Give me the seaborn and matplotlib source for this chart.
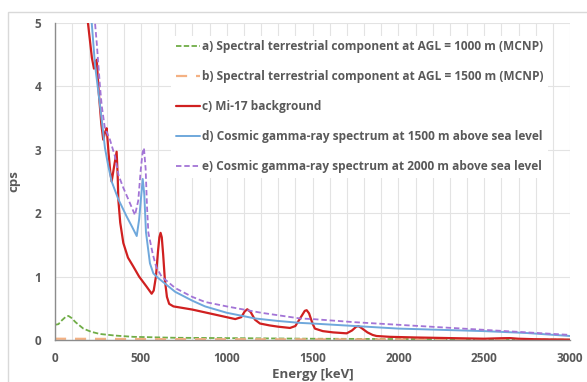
import matplotlib
matplotlib.use("Agg")
import matplotlib.pyplot as plt
from matplotlib.patches import Rectangle
import seaborn as sns
import numpy as np

# ---- data ----
green_e = [0, 20, 40, 60, 78, 95, 120, 165, 210, 262, 350, 456, 700, 1000, 1500, 2000, 2500, 3000]
green_y = [0.24, 0.25, 0.31, 0.36, 0.38, 0.35, 0.28, 0.18, 0.13, 0.095, 0.07, 0.05, 0.035, 0.03, 0.02, 0.015, 0.01, 0.005]

orange_e = [0, 200, 500, 1000, 1500, 2000, 2500, 3000]
orange_y = [0.02, 0.018, 0.015, 0.012, 0.01, 0.008, 0.006, 0.005]

red_e = [150, 192, 215, 227, 236, 243, 255, 270, 281, 292, 301, 312, 322, 330, 345, 359, 365, 369, 380,
         398, 425, 456, 490, 534, 563, 575, 588, 600, 608, 615, 622, 630, 640, 652, 665, 690, 800, 900, 1000, 1050,
         1085, 1105, 1120, 1140, 1165, 1194, 1250, 1300, 1369, 1400, 1430, 1455, 1466, 1480, 1500, 1514,
         1560, 1620, 1699, 1730, 1755, 1767, 1785, 1820, 1850, 1873, 1950, 2100, 2300, 2500, 2600, 2650,
         2700, 2800, 3000]
red_y = [6.5, 5.0, 4.45, 4.28, 4.35, 4.42, 3.9, 3.4, 3.16, 3.28, 3.34, 2.95, 2.65, 2.50, 2.75, 2.97, 2.6, 2.21, 1.85,
         1.53, 1.3, 1.16, 1.0, 0.84, 0.73, 0.78, 1.0, 1.4, 1.62, 1.69, 1.62, 1.35, 0.95, 0.68, 0.57, 0.53, 0.48, 0.42, 0.36, 0.33,
         0.36, 0.45, 0.485, 0.44, 0.32, 0.26, 0.23, 0.21, 0.19, 0.22, 0.35, 0.46, 0.47, 0.42, 0.26, 0.18,
         0.14, 0.12, 0.105, 0.15, 0.21, 0.22, 0.19, 0.12, 0.08, 0.063, 0.05, 0.04, 0.03, 0.02, 0.028, 0.03,
         0.02, 0.012, 0.005]

blue_e = [170, 214, 233, 262, 291, 310, 330, 369, 417, 450, 476, 490, 503, 511, 520, 530, 553, 573,
          600, 650, 700, 800, 874, 1000, 1165, 1300, 1427, 1500, 1750, 2000, 2250, 2500, 2750, 3000]
blue_y = [6.2, 5.0, 4.34, 3.71, 3.03, 2.75, 2.5, 2.22, 1.95, 1.78, 1.64, 1.9, 2.3, 2.54, 2.3, 1.7, 1.21, 1.05,
          0.98, 0.87, 0.76, 0.62, 0.53, 0.43, 0.34, 0.30, 0.27, 0.26, 0.22, 0.18, 0.16, 0.14, 0.11, 0.063]

purple_e = [190, 230, 243, 262, 272, 290, 320, 349, 370, 398, 430, 466, 485, 500, 510, 518, 528, 536, 544,
            570, 590, 621, 700, 800, 874, 1000, 1200, 1427, 1500, 1750, 2000, 2250, 2500, 2750, 3000]
purple_y = [6.3, 5.1, 4.69, 4.0, 3.7, 3.35, 3.16, 2.9, 2.6, 2.40, 2.2, 1.97, 2.2, 2.7, 2.95, 3.03, 2.7, 2.1, 1.69,
            1.35, 1.15, 1.0, 0.82, 0.68, 0.6, 0.53, 0.43, 0.34, 0.33, 0.28, 0.24, 0.20, 0.16, 0.12, 0.08]

labels = [
    "a) Spectral terrestrial component at AGL = 1000 m (MCNP)",
    "b) Spectral terrestrial component at AGL = 1500 m (MCNP)",
    "c) Mi-17 background",
    "d) Cosmic gamma-ray spectrum at 1500 m above sea level",
    "e) Cosmic gamma-ray spectrum at 2000 m above sea level",
]
x_ticks = [0, 500, 1000, 1500, 2000, 2500, 3000]
y_ticks = [0, 1, 2, 3, 4, 5]

# ---- style ----
sns.set_style("white")
plt.rcParams["font.family"] = ["Open Sans", "DejaVu Sans"]
plt.rcParams["font.weight"] = "bold"
TXT = "#595959"

fig = plt.figure(figsize=(5.87, 3.82), dpi=100)
ax = fig.add_axes([55 / 587, 1 - 340 / 382, 515 / 587, 317 / 382])

# outer chart border
fig.patches.append(Rectangle((8 / 587, -0.1), 1.2, 1 - 12 / 382 + 0.1, transform=fig.transFigure,
                             fill=False, edgecolor="#d9d9d9", linewidth=1.0, zorder=0))

series = [
    (green_e, green_y, "#70AD47", 1.3, (3, 1.3)),
    (orange_e, orange_y, "#F4B183", 1.6, (5, 4)),
    (red_e, red_y, "#D02020", 1.6, None),
    (blue_e, blue_y, "#6FA8DC", 1.4, None),
    (purple_e, purple_y, "#A374D6", 1.3, (3, 1.6)),
]
handles = []
for (xe, ye, col, lw, dash), lab in zip(series, labels):
    sns.lineplot(x=xe, y=ye, ax=ax, color=col, linewidth=lw, label=lab, legend=False)
    ln = ax.lines[-1]
    if dash is not None:
        ln.set_dashes(dash)
    handles.append(ln)

ax.set_xlim(0, 3000)
ax.set_ylim(0, 5)
ax.set_xticks(x_ticks)
ax.set_yticks(y_ticks)
ax.set_xticks(np.arange(0, 3001, 100), minor=True)
ax.grid(True, which="both", axis="x", color="#e3e3e3", linewidth=0.8)
ax.grid(True, which="major", axis="y", color="#e3e3e3", linewidth=0.8)
ax.set_axisbelow(True)
for s in ["top", "right"]:
    ax.spines[s].set_visible(False)
for s in ["left", "bottom"]:
    ax.spines[s].set_color("#8c8c8c")
    ax.spines[s].set_linewidth(1.0)
ax.tick_params(axis="both", which="major", direction="out", length=4, width=1.0, color="#8c8c8c",
               labelcolor=TXT, labelsize=8.5)
ax.tick_params(axis="x", which="minor", length=0)
for t in ax.get_xticklabels() + ax.get_yticklabels():
    t.set_fontweight("bold")
ax.tick_params(axis="x", pad=5)
ax.tick_params(axis="y", pad=6)

ax.set_xlabel("Energy [keV]", fontsize=9.5, fontweight="bold", color=TXT, labelpad=2)
ax.set_ylabel("cps", fontsize=9.5, fontweight="bold", color=TXT, labelpad=10)

leg = ax.legend(handles=handles, labels=labels, loc="upper left", bbox_to_anchor=(0.225, 0.96),
                frameon=True, facecolor="white", edgecolor="none", framealpha=1.0,
                fontsize=8.6, handlelength=2.0, handletextpad=0.2, labelspacing=1.42,
                borderpad=0.4, borderaxespad=0)
for t in leg.get_texts():
    t.set_color(TXT)
    t.set_fontweight("bold")

fig.savefig("out.png", dpi=100)
